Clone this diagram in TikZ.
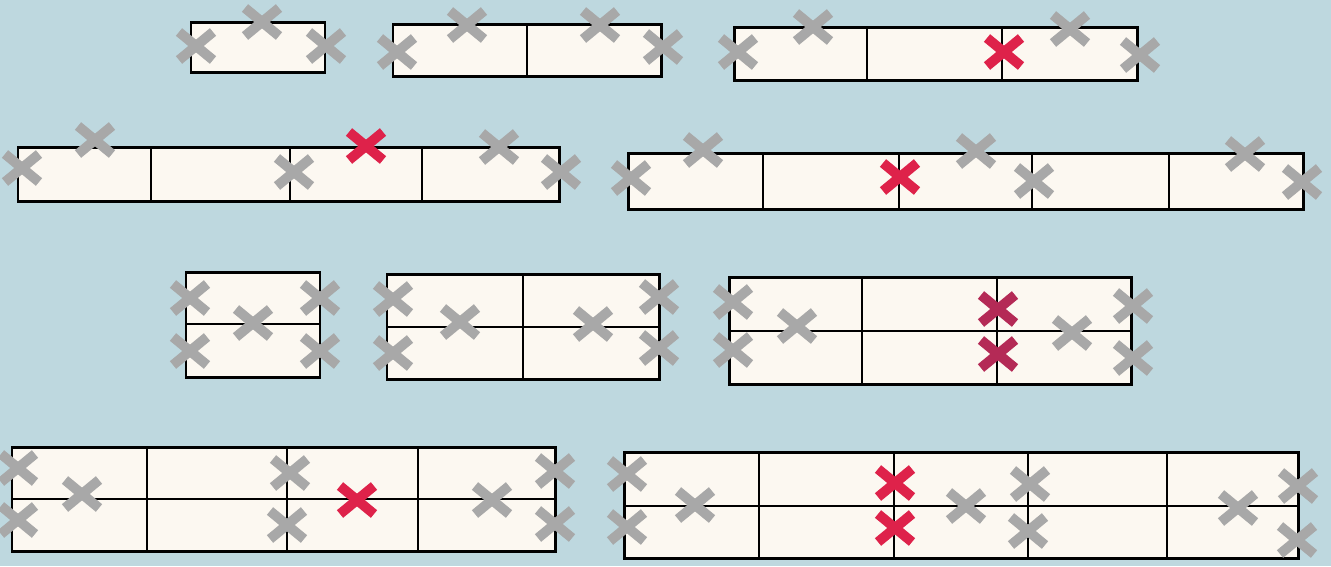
\documentclass[tikz,border=0pt]{standalone}
\usepackage{tikz}

\definecolor{bgblue}{RGB}{190,216,223}
\definecolor{cream}{RGB}{252,248,241}
\definecolor{markgray}{RGB}{168,168,168}
\definecolor{markred}{RGB}{222,34,74}
\definecolor{markplum}{RGB}{180,42,86}

\tikzset{
    xmark/.pic={\draw[pic actions] (-17,-14) -- (17,14) (-17,14) -- (17,-14);}
}

\begin{document}
\begin{tikzpicture}[
        x=0.02cm, y=-0.02cm,
        box/.style={draw=black, fill=cream, line width=1.7pt},
        divider/.style={draw=black, line width=1.5pt},
        gmark/.style={draw=markgray, line width=5.6pt},
        rmark/.style={draw=markred, line width=5.6pt},
        pmark/.style={draw=markplum, line width=5.6pt},
    ]
        % background
        \useasboundingbox (0,0) rectangle (1331,566);
        \fill[bgblue] (0,0) rectangle (1331,566);
        \clip (0,0) rectangle (1331,566);

        % ====== row 1: single strips ======
        \draw[box] (191,22) rectangle (325,72);
        \draw[box] (393,24) rectangle (661,76);
        \draw[divider] (527,24) -- (527,76);
        \draw[box] (734,27) rectangle (1137,80);
        \foreach \xd in {867,1002} \draw[divider] (\xd,27) -- (\xd,80);

        \foreach \p in {(196,46),(262,22),(326,46),(397,52),(467,25),(600,25),(663,47),
                        (738,52),(813,27),(1070,29),(1140,55)}
            \pic[gmark] at \p {xmark};
        \pic[rmark] at (1004,52) {xmark};

        % ====== row 2: long single strips ======
        \draw[box] (18,147) rectangle (559,201);
        \foreach \xd in {151,290,422} \draw[divider] (\xd,147) -- (\xd,201);
        \draw[box] (628,153) rectangle (1303,209);
        \foreach \xd in {763,899,1032,1169} \draw[divider] (\xd,153) -- (\xd,209);

        \foreach \p in {(22,168),(95,140),(294,172),(499,147),(561,172),
                        (631,178),(703,150),(976,151),(1034,181),(1245,154),(1302,182)}
            \pic[gmark] at \p {xmark};
        \pic[rmark] at (366,146) {xmark};
        \pic[rmark] at (900,177) {xmark};

        % ====== row 3: double strips ======
        \draw[box] (186,272) rectangle (320,377);
        \draw[divider] (186,324) -- (320,324);
        \draw[box] (387,274) rectangle (659,379);
        \draw[divider] (387,327) -- (659,327);
        \draw[divider] (523,274) -- (523,379);
        \draw[box] (729,277) rectangle (1131,384);
        \draw[divider] (729,331) -- (1131,331);
        \foreach \xd in {862,997} \draw[divider] (\xd,277) -- (\xd,384);

        \foreach \p in {(190,298),(320,298),(253,323),(190,351),(320,351),
                        (393,299),(659,297),(460,322),(593,324),(393,353),(659,348),
                        (733,302),(797,326),(733,350),(1072,333),(1133,306),(1133,358)}
            \pic[gmark] at \p {xmark};
        \pic[pmark] at (998,309) {xmark};
        \pic[pmark] at (998,354) {xmark};

        % ====== row 4: long double strips ======
        \draw[box] (12,447) rectangle (555,551);
        \draw[divider] (12,499) -- (555,499);
        \foreach \xd in {147,287,418} \draw[divider] (\xd,447) -- (\xd,551);
        \draw[box] (624,452) rectangle (1298,558);
        \draw[divider] (624,506) -- (1298,506);
        \foreach \xd in {759,894,1028,1167} \draw[divider] (\xd,452) -- (\xd,558);

        \foreach \p in {(18,468),(18,520),(82,494),(290,473),(287,525),(492,500),(555,471),(555,524),
                        (627,474),(627,527),(695,505),(966,506),(1030,484),(1028,531),
                        (1238,508),(1298,486),(1297,540)}
            \pic[gmark] at \p {xmark};
        \pic[rmark] at (357,500) {xmark};
        \pic[rmark] at (895,483) {xmark};
        \pic[rmark] at (895,528) {xmark};
    \end{tikzpicture}
\end{document}
